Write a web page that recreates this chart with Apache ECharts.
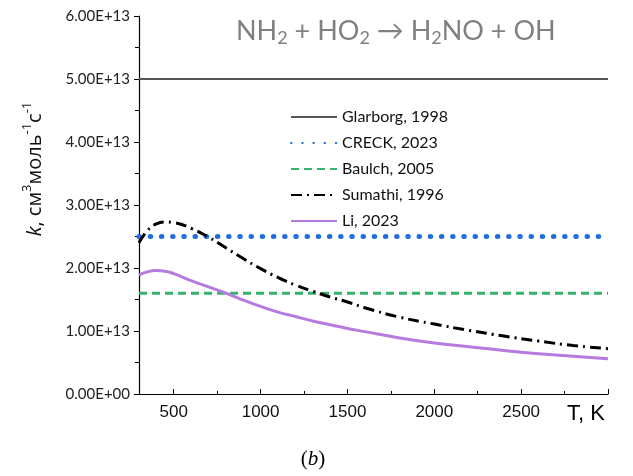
<!DOCTYPE html>
<html>
<head>
<meta charset="utf-8">
<script src="https://cdn.jsdelivr.net/npm/echarts@6/dist/echarts.min.js"></script>
<style>html,body{margin:0;padding:0;background:#fff}#c{width:633px;height:476px}</style>
</head>
<body>
<div id="c"></div>
<script>
const temps = [300,350,400,450,500,600,700,800,900,1000,1100,1200,1300,1400,1500,1600,1800,2000,2200,2400,2600,2800,3000];
const glarborg = 5.0e13;
const creck = 2.5e13;
const baulch = 1.6e13;
const sumathi = [2.40,2.60,2.70,2.73,2.72,2.63,2.49,2.32,2.15,1.99,1.85,1.73,1.63,1.54,1.46,1.37,1.22,1.11,1.01,0.92,0.84,0.77,0.72];
const li = [1.89,1.94,1.96,1.95,1.91,1.80,1.70,1.60,1.49,1.39,1.30,1.23,1.16,1.10,1.04,0.99,0.89,0.81,0.75,0.69,0.64,0.60,0.56];
const seriesNames = ['Glarborg, 1998','CRECK, 2023','Baulch, 2005','Sumathi, 1996','Li, 2023'];
const xRange = [300, 3000];
const yTicks = [0, 1e13, 2e13, 3e13, 4e13, 5e13, 6e13];

const flat = v => [[xRange[0], v], [xRange[1], v]];
const curve = arr => temps.map((t, i) => [t, arr[i] * 1e13]);

const chart = echarts.init(document.getElementById('c'), null, {renderer: 'canvas'});
const lblFont = 'Lato, "Open Sans", sans-serif';
chart.setOption({
  animation: false,
  backgroundColor: '#fff',
  grid: {left: 139, right: 25, top: 16, bottom: 82},
  title: {
    left: 231, top: 10,
    text: '{n|NH}{s|2}{n| + HO}{s|2}{n| → H}{s|2}{n|NO + OH}',
    textStyle: {
      fontWeight: 'normal',
      rich: {
        n: {fontFamily: lblFont, fontWeight: 'normal', fontSize: 27, color: '#808080', lineHeight: 32},
        s: {fontFamily: lblFont, fontWeight: 'normal', fontSize: 18, color: '#808080', lineHeight: 18, verticalAlign: 'bottom'}
      }
    }
  },
  legend: {
    orient: 'vertical', left: 285, top: 104,
    itemWidth: 46, itemHeight: 14, itemGap: 10,
    data: seriesNames,
    itemStyle: {opacity: 0},
    textStyle: {fontFamily: lblFont, fontSize: 16, color: '#111', lineHeight: 14}
  },
  xAxis: {
    type: 'value', min: xRange[0], max: xRange[1],
    axisLine: {lineStyle: {color: '#000', width: 1.2}},
    axisTick: {inside: true, length: 5, lineStyle: {color: '#000'}},
    minorTick: {show: true, splitNumber: 2, length: 3, lineStyle: {color: '#000'}},
    splitLine: {show: false},
    axisLabel: {showMinLabel: false, showMaxLabel: false, fontFamily: '"Liberation Sans", Arial, sans-serif', fontSize: 17, color: '#111', margin: 10,
      formatter: v => String(v)}
  },
  yAxis: {
    type: 'value', min: yTicks[0], max: yTicks[yTicks.length - 1], interval: 1e13,
    axisLine: {show: true, lineStyle: {color: '#000', width: 1.2}},
    axisTick: {show: true, length: 5, lineStyle: {color: '#000'}},
    minorTick: {show: true, splitNumber: 2, length: 4, lineStyle: {color: '#000'}},
    splitLine: {show: false},
    axisLabel: {
      fontFamily: lblFont, fontSize: 15, color: '#222', margin: 9,
      formatter: v => v === 0 ? '0.00E+00' : (v / 1e13).toFixed(2) + 'E+13'
    }
  },
  graphic: [
    {
      type: 'text', x: 35, y: 169, rotation: Math.PI / 2,
      style: {
        text: '{i|k}{n|, см}{p|3}{n|моль}{p|-1}{n|с}{p|-1}',
        align: 'center', verticalAlign: 'middle',
        rich: {
          i: {fontFamily: '"Open Sans", sans-serif', fontStyle: 'italic', fontSize: 20, lineHeight: 28, fill: '#111'},
          n: {fontFamily: '"Open Sans", sans-serif', fontSize: 20, lineHeight: 28, fill: '#111'},
          p: {fontFamily: '"Open Sans", sans-serif', fontSize: 13, lineHeight: 14, verticalAlign: 'top', fill: '#111'}
        }
      }
    },
    {
      type: 'text', x: 586, y: 414,
      style: {text: 'T, K', font: '22px "Liberation Sans", Arial, sans-serif', fill: '#000', align: 'center', verticalAlign: 'middle'}
    },
    {
      type: 'text', x: 313, y: 459,
      style: {
        text: '{n|(}{i|b}{n|)}', align: 'center', verticalAlign: 'middle',
        rich: {
          n: {fontFamily: '"Liberation Serif", "DejaVu Serif", serif', fontSize: 21, fill: '#000'},
          i: {fontFamily: '"Liberation Serif", "DejaVu Serif", serif', fontStyle: 'italic', fontSize: 21, fill: '#000'}
        }
      }
    }
  ],
  series: [
    {name: seriesNames[0], type: 'line', symbol: 'none', data: flat(glarborg),
     lineStyle: {color: '#555555', width: 2}, itemStyle: {color: '#555555'}},
    {name: seriesNames[1], type: 'line', symbol: 'none', data: flat(creck),
     lineStyle: {color: '#1f6fe0', width: 5, type: [0.5, 10.7], cap: 'round'}, itemStyle: {color: '#1f6fe0'}},
    {name: seriesNames[2], type: 'line', symbol: 'none', data: flat(baulch),
     lineStyle: {color: '#33b36b', width: 3, type: [8, 5]}, itemStyle: {color: '#33b36b'}},
    {name: seriesNames[3], type: 'line', symbol: 'none', data: curve(sumathi), smooth: 0.5,
     lineStyle: {color: '#000', width: 3, type: [11, 5, 2, 5]}, itemStyle: {color: '#000'}},
    {name: seriesNames[4], type: 'line', symbol: 'none', data: curve(li), smooth: 0.5,
     lineStyle: {color: '#b57bdf', width: 3}, itemStyle: {color: '#b57bdf'}}
  ]
});
</script>
</body>
</html>
